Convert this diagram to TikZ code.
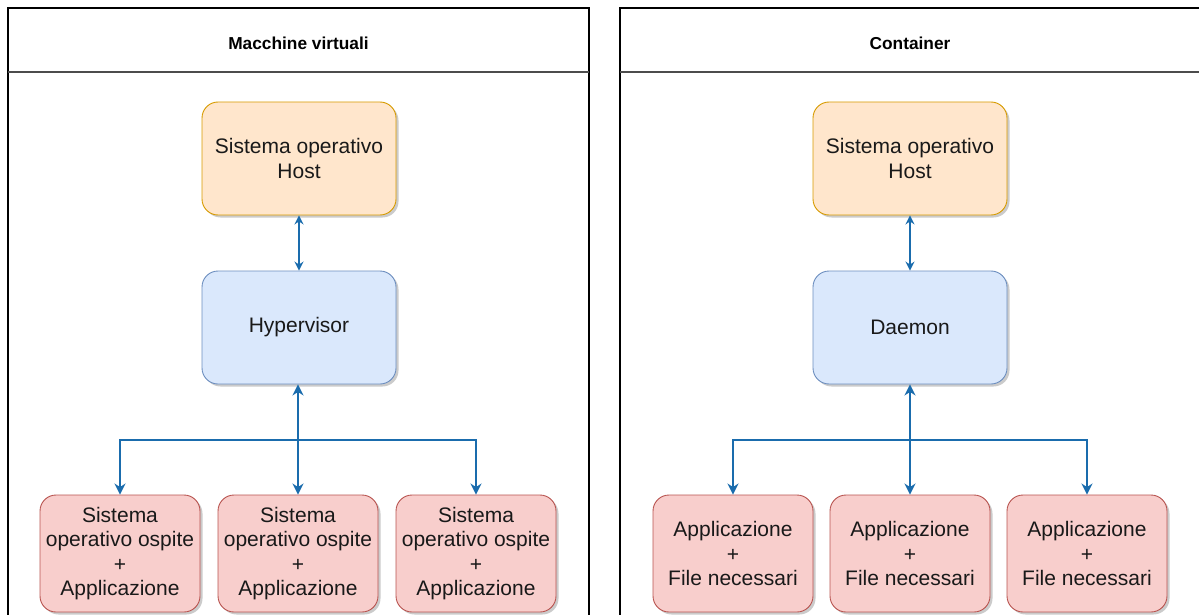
\documentclass[tikz,border=0pt]{standalone}
\usepackage{fontspec}
\setmainfont{Liberation Sans}
\usetikzlibrary{arrows.meta,shadows}

\definecolor{hostfill}{HTML}{FFE6CC}
\definecolor{hostline}{HTML}{D79B00}
\definecolor{midfill}{HTML}{DAE8FC}
\definecolor{midline}{HTML}{6C8EBF}
\definecolor{guestfill}{HTML}{F8CECC}
\definecolor{guestline}{HTML}{B85450}
\definecolor{link}{HTML}{1A6CAD}

\tikzset{
  panel/.style={draw=black, line width=1.1pt},
  headline/.style={draw=black!70, line width=1.6pt},
  paneltitle/.style={font=\bfseries\fontsize{17.3}{20}\selectfont, text=black},
  card/.style={rounded corners=16pt, line width=0.9pt, align=center,
    inner sep=0pt, text=black!90,
    font=\fontsize{21}{24.6}\selectfont,
    drop shadow={shadow xshift=2.5pt, shadow yshift=-2.5pt,
      fill=black!45, opacity=0.45}},
  hostbox/.style={card, fill=hostfill, draw=hostline,
    minimum width=194pt, minimum height=113pt},
  midbox/.style={card, fill=midfill, draw=midline,
    minimum width=194pt, minimum height=113pt},
  guestbox/.style={card, fill=guestfill, draw=guestline,
    minimum width=160pt, minimum height=117pt},
  thinlink/.style={draw=link, line width=1.8pt,
    {Stealth[length=9pt,width=9pt,inset=3pt]}-{Stealth[length=9pt,width=9pt,inset=3pt]}},
  buslink/.style={draw=link, line width=2.6pt},
  tipdown/.style={-{Stealth[length=11pt,width=11pt,inset=3.5pt]}},
  tipboth/.style={{Stealth[length=11pt,width=11pt,inset=3.5pt]}-{Stealth[length=11pt,width=11pt,inset=3.5pt]}}
}

\begin{document}
\begin{tikzpicture}[x=1pt,y=-1pt]
\useasboundingbox (0,0) rectangle (1199,615);
\begin{scope}
\clip (0,0) rectangle (1199,615);

% ---- left panel: virtual machines ----
\draw[panel] (8,8) rectangle (589,640);
\draw[headline] (8,72) -- (589,72);
\node[paneltitle] (vmtitle) at (298.5,43) {Macchine virtuali};

\node[hostbox] (vmhost) at (299,158.5) {Sistema operativo\\Host};
\node[midbox]  (hyper)  at (299,327.5) {Hypervisor};
\node[guestbox] (vm1) at (120,553.5) {Sistema\\operativo ospite\\+\\Applicazione};
\node[guestbox] (vm2) at (298,553.5) {Sistema\\operativo ospite\\+\\Applicazione};
\node[guestbox] (vm3) at (476,553.5) {Sistema\\operativo ospite\\+\\Applicazione};

\coordinate (vmbus) at (298,440);
\draw[thinlink] (vmhost.south) -- (hyper.north);
\draw[buslink,tipdown] (vmbus) -| (vm1.north);
\draw[buslink,tipdown] (vmbus) -| (vm3.north);
\draw[buslink,tipboth] (hyper.south -| vm2.north) -- (vm2.north);

% ---- right panel: containers ----
\draw[panel] (620,8) rectangle (1230,640);
\draw[headline] (620,72) -- (1230,72);
\node[paneltitle] (cttitle) at (910,43) {Container};

\node[hostbox] (cthost) at (910,158.5) {Sistema operativo\\Host};
\node[midbox]  (daemon) at (910,327.5) {Daemon};
\node[guestbox] (ct1) at (733,553.5) {Applicazione\\+\\File necessari};
\node[guestbox] (ct2) at (910,553.5) {Applicazione\\+\\File necessari};
\node[guestbox] (ct3) at (1087,553.5) {Applicazione\\+\\File necessari};

\coordinate (ctbus) at (910,440);
\draw[thinlink] (cthost.south) -- (daemon.north);
\draw[buslink,tipdown] (ctbus) -| (ct1.north);
\draw[buslink,tipdown] (ctbus) -| (ct3.north);
\draw[buslink,tipboth] (daemon.south -| ct2.north) -- (ct2.north);
\end{scope}
\end{tikzpicture}
\end{document}
